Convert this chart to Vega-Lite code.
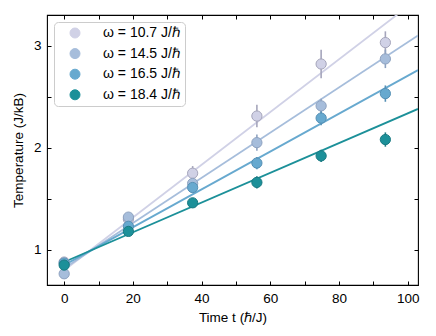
{
  "$schema": "https://vega.github.io/schema/vega-lite/v6.json",
  "width": 371,
  "height": 270,
  "autosize": {"type": "none"},
  "padding": {"left": 47, "top": 15, "right": 18, "bottom": 51},
  "background": "white",
  "config": {
    "font": "Liberation Sans",
    "view": {"stroke": "#000", "strokeWidth": 1.1},
    "axis": {"domain": false, "grid": false, "tickColor": "#000", "tickSize": -4, "tickWidth": 1, "labelColor": "#000", "titleColor": "#000", "labelFontSize": 13.5, "titleFontSize": 13.5, "titleFontWeight": "normal"}
  },
  "datasets": {
    "pts": [
      {"series": "ω = 10.7 J/ℏ", "t": 0, "T": 0.88, "lo": 0.83, "hi": 0.93},
      {"series": "ω = 10.7 J/ℏ", "t": 18.7, "T": 1.30, "lo": 1.26, "hi": 1.34},
      {"series": "ω = 10.7 J/ℏ", "t": 37.4, "T": 1.75, "lo": 1.68, "hi": 1.82},
      {"series": "ω = 10.7 J/ℏ", "t": 56.1, "T": 2.31, "lo": 2.20, "hi": 2.42},
      {"series": "ω = 10.7 J/ℏ", "t": 74.8, "T": 2.82, "lo": 2.68, "hi": 2.96},
      {"series": "ω = 10.7 J/ℏ", "t": 93.5, "T": 3.03, "lo": 2.92, "hi": 3.14},
      {"series": "ω = 14.5 J/ℏ", "t": 0, "T": 0.765, "lo": 0.735, "hi": 0.795},
      {"series": "ω = 14.5 J/ℏ", "t": 18.7, "T": 1.32, "lo": 1.28, "hi": 1.36},
      {"series": "ω = 14.5 J/ℏ", "t": 37.4, "T": 1.65, "lo": 1.59, "hi": 1.71},
      {"series": "ω = 14.5 J/ℏ", "t": 56.1, "T": 2.05, "lo": 1.97, "hi": 2.13},
      {"series": "ω = 14.5 J/ℏ", "t": 74.8, "T": 2.41, "lo": 2.34, "hi": 2.48},
      {"series": "ω = 14.5 J/ℏ", "t": 93.5, "T": 2.87, "lo": 2.78, "hi": 2.96},
      {"series": "ω = 16.5 J/ℏ", "t": 0, "T": 0.87, "lo": 0.84, "hi": 0.90},
      {"series": "ω = 16.5 J/ℏ", "t": 18.7, "T": 1.23, "lo": 1.19, "hi": 1.27},
      {"series": "ω = 16.5 J/ℏ", "t": 37.4, "T": 1.61, "lo": 1.56, "hi": 1.66},
      {"series": "ω = 16.5 J/ℏ", "t": 56.1, "T": 1.85, "lo": 1.79, "hi": 1.91},
      {"series": "ω = 16.5 J/ℏ", "t": 74.8, "T": 2.29, "lo": 2.22, "hi": 2.36},
      {"series": "ω = 16.5 J/ℏ", "t": 93.5, "T": 2.53, "lo": 2.45, "hi": 2.61},
      {"series": "ω = 18.4 J/ℏ", "t": 0, "T": 0.85, "lo": 0.82, "hi": 0.88},
      {"series": "ω = 18.4 J/ℏ", "t": 18.7, "T": 1.18, "lo": 1.15, "hi": 1.21},
      {"series": "ω = 18.4 J/ℏ", "t": 37.4, "T": 1.46, "lo": 1.42, "hi": 1.50},
      {"series": "ω = 18.4 J/ℏ", "t": 56.1, "T": 1.66, "lo": 1.60, "hi": 1.72},
      {"series": "ω = 18.4 J/ℏ", "t": 74.8, "T": 1.92, "lo": 1.86, "hi": 1.98},
      {"series": "ω = 18.4 J/ℏ", "t": 93.5, "T": 2.08, "lo": 2.01, "hi": 2.15}
    ],
    "fits": [
      {"series": "ω = 10.7 J/ℏ", "t": 0, "T": 0.80},
      {"series": "ω = 10.7 J/ℏ", "t": 103, "T": 3.46},
      {"series": "ω = 14.5 J/ℏ", "t": 0, "T": 0.82},
      {"series": "ω = 14.5 J/ℏ", "t": 103, "T": 3.10},
      {"series": "ω = 16.5 J/ℏ", "t": 0, "T": 0.85},
      {"series": "ω = 16.5 J/ℏ", "t": 103, "T": 2.76},
      {"series": "ω = 18.4 J/ℏ", "t": 0, "T": 0.88},
      {"series": "ω = 18.4 J/ℏ", "t": 103, "T": 2.38}
    ]
  },
  "resolve": {"axis": {"x": "independent", "y": "independent"}},
  "layer": [
    {
      "data": {"name": "fits"},
      "mark": {"type": "line", "strokeWidth": 1.8, "clip": true},
      "encoding": {
        "x": {"field": "t", "type": "quantitative", "scale": {"domain": [-5, 103], "nice": false, "zero": false},
          "axis": {"orient": "bottom", "title": "Time t (ℏ/J)", "values": [0, 10, 20, 30, 40, 50, 60, 70, 80, 90, 100], "labelExpr": "datum.value % 20 === 0 ? datum.label : ''", "labelPadding": 10, "titlePadding": 6}},
        "y": {"field": "T", "type": "quantitative", "scale": {"domain": [0.655, 3.3], "nice": false, "zero": false},
          "axis": {"orient": "left", "title": "Temperature (J/kB)", "values": [1, 1.5, 2, 2.5, 3], "format": "~g", "labelExpr": "datum.value % 1 === 0 ? datum.label : ''", "labelPadding": 10, "titlePadding": 8}},
        "color": {"field": "series", "type": "nominal",
          "scale": {"domain": ["ω = 10.7 J/ℏ", "ω = 14.5 J/ℏ", "ω = 16.5 J/ℏ", "ω = 18.4 J/ℏ"], "range": ["#d0d1e6", "#a6bddb", "#67a9cf", "#1c9099"]},
          "legend": {"title": null, "orient": "none", "legendX": 7, "legendY": 7, "padding": 4, "labelFontSize": 14, "labelOffset": 21, "symbolSize": 100, "symbolType": "circle", "symbolStrokeWidth": 1, "symbolStrokeColor": "#9a9ab0", "rowPadding": 6.6, "strokeColor": "#cccccc", "cornerRadius": 4, "fillColor": "white", "symbolOffset": 10, "labelColor": "#000"}},
        "detail": {"field": "series"}
      }
    },
    {
      "data": {"name": "pts"},
      "mark": {"type": "rule", "strokeWidth": 1.6},
      "encoding": {
        "x": {"field": "t", "type": "quantitative",
          "axis": {"orient": "top", "title": null, "labels": false, "values": [0, 10, 20, 30, 40, 50, 60, 70, 80, 90, 100]}},
        "y": {"field": "lo", "type": "quantitative",
          "axis": {"orient": "right", "title": null, "labels": false, "values": [1, 1.5, 2, 2.5, 3]}},
        "y2": {"field": "hi"},
        "stroke": {"field": "series", "type": "nominal",
          "scale": {"domain": ["ω = 10.7 J/ℏ", "ω = 14.5 J/ℏ", "ω = 16.5 J/ℏ", "ω = 18.4 J/ℏ"], "range": ["#a5a5bb", "#8ea2c0", "#5590b5", "#1a7a82"]},
          "legend": null}
      }
    },
    {
      "data": {"name": "pts"},
      "mark": {"type": "circle", "strokeWidth": 1, "size": 105, "opacity": 1},
      "encoding": {
        "x": {"field": "t", "type": "quantitative", "axis": null},
        "y": {"field": "T", "type": "quantitative", "axis": null},
        "color": {"field": "series", "type": "nominal"},
        "stroke": {"field": "series", "type": "nominal", "legend": null}
      }
    }
  ]
}
